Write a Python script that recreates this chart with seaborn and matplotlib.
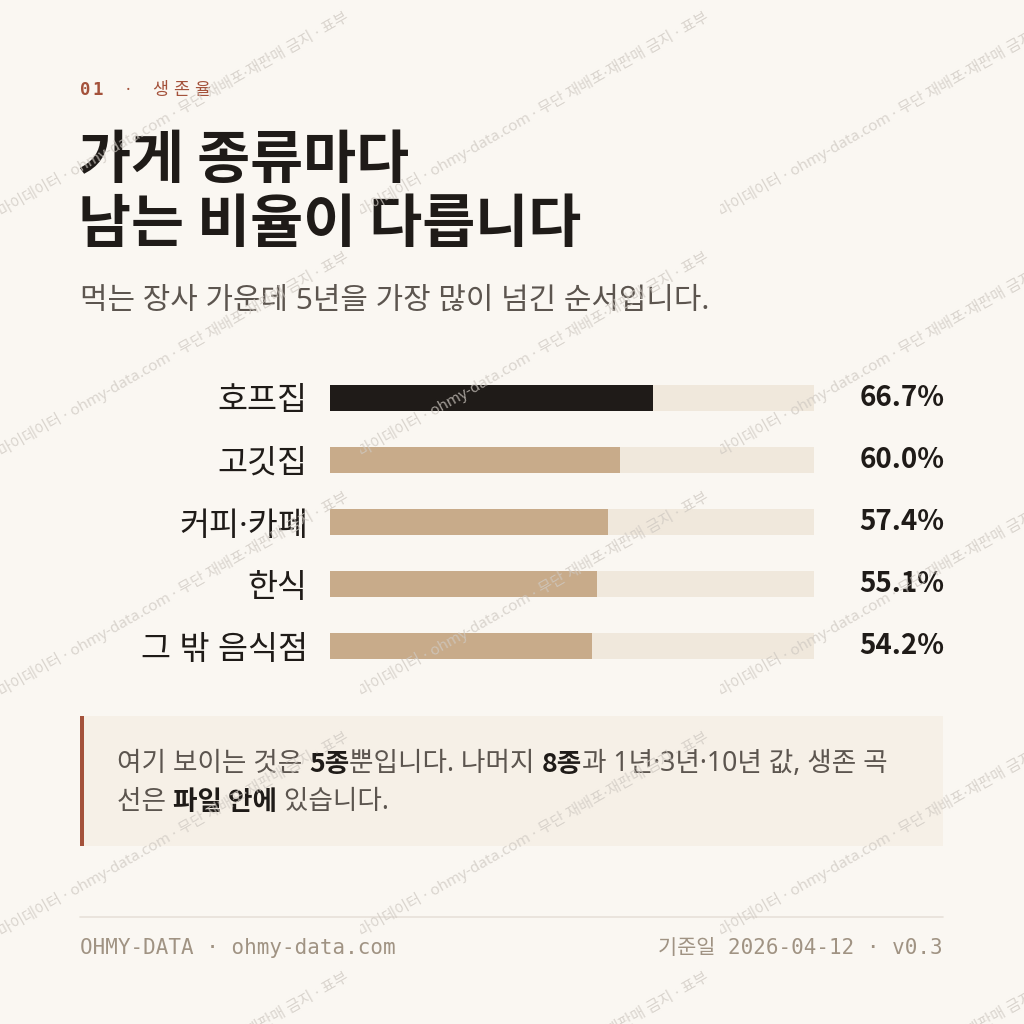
import matplotlib
matplotlib.use("Agg")
import matplotlib.pyplot as plt
import seaborn as sns
import pandas as pd
from matplotlib.patches import Rectangle

# 데이터
categories = ["호프집", "고깃집", "커피·카페", "한식", "그 밖 음식점"]
survival_5y = [66.7, 60.0, 57.4, 55.1, 54.2]
track_max = [100, 100, 100, 100, 100]

tag_chars = ["0", "1", "·", "생", "존", "율"]
title_lines = ["가게 종류마다", "남는 비율이 다릅니다"]
subtitle = "먹는 장사 가운데 5년을 가장 많이 넘긴 순서입니다."
# (글자, 굵게 여부)
note_line1 = [("여기 보이는 것은 ", False), ("5종", True), ("뿐입니다. 나머지 ", False),
              ("8종", True), ("과 1년·3년·10년 값, 생존 곡", False)]
note_line2 = [("선은 ", False), ("파일 안에", True), (" 있습니다.", False)]
footer_left = "OHMY-DATA · ohmy-data.com"
footer_right = "기준일 2026-04-12 · v0.3"
watermark = "마이데이터 · ohmy-data.com · 무단 재배포·재판매 금지 · 표부"

# 색
BG = "#faf7f2"
INK = "#1f1b18"
RUST = "#a4523b"
TAN = "#c8ab8a"
TRACK = "#f0e8dc"
BOX = "#f6f0e7"
GREY = "#5c554f"
MUTED = "#a09383"

KR = ["Noto Sans", "Noto Sans CJK KR", "DejaVu Sans"]
KR_BOLD = ["Noto Sans CJK KR", "DejaVu Sans"]
MONO = ["DejaVu Sans Mono", "Noto Sans CJK KR"]

sns.set_theme(style="white")
plt.rcParams["font.family"] = KR
plt.rcParams["axes.unicode_minus"] = False

W = H = 1024
fig = plt.figure(figsize=(10.24, 10.24), dpi=100, facecolor=BG)


def fx(px):
    return px / W


def fy(py):
    return 1 - py / H


# 상단 태그
tag_x = [80, 92, 126, 152, 173, 194]
for ch, x in zip(tag_chars, tag_x):
    fig.text(fx(x), fy(90), ch, color=RUST, fontsize=12.5, va="center", ha="left",
             family=MONO if ch.isdigit() else KR,
             fontweight="bold" if ch.isdigit() else "normal")

# 제목
fig.text(fx(78), fy(161), title_lines[0], fontsize=41.5, fontweight="bold", color=INK,
         va="center", ha="left", family=KR_BOLD)
fig.text(fx(78), fy(225), title_lines[1], fontsize=41.5, fontweight="bold", color=INK,
         va="center", ha="left", family=KR_BOLD)
fig.text(fx(80), fy(301), subtitle, fontsize=21.5, color=GREY, va="center", ha="left")

# 막대 차트
df = pd.DataFrame({"cat": categories, "val": survival_5y, "track": track_max})
ax = fig.add_axes([fx(330), fy(677), fx(484), 310 / H])
ax.set_facecolor("none")
sns.barplot(data=df, x="track", y="cat", orient="h", color=TRACK, width=0.42,
            saturation=1, ax=ax)
sns.barplot(data=df, x="val", y="cat", orient="h", hue="cat",
            palette=[INK] + [TAN] * (len(categories) - 1), width=0.42,
            saturation=1, legend=False, ax=ax)
for p in ax.patches:
    p.set_edgecolor("none")
ax.set_xlim(0, 100)
ax.set_ylim(len(categories) - 0.5, -0.5)
ax.set_xlabel("")
ax.set_ylabel("")
ax.set_xticks([])
ax.tick_params(axis="y", length=0, pad=16, labelsize=23.5, labelcolor=INK)
sns.despine(ax=ax, left=True, bottom=True)
for i, v in enumerate(survival_5y):
    ax.annotate(f"{v:.1f}%", xy=(100, i), xytext=(32.5, 0), textcoords="offset points",
                va="center", ha="left", fontsize=20, fontweight="bold", color=INK,
                family=KR_BOLD)

# 노트 박스
fig.patches.append(Rectangle((fx(80), fy(846)), fx(863), 130 / H, transform=fig.transFigure,
                             facecolor=BOX, edgecolor="none", zorder=0))
fig.patches.append(Rectangle((fx(80), fy(846)), fx(4), 130 / H, transform=fig.transFigure,
                             facecolor=RUST, edgecolor="none", zorder=1))

fig.canvas.draw()
renderer = fig.canvas.get_renderer()


def draw_runs(runs, x0, y0, size):
    x = x0
    for txt, bold in runs:
        t = fig.text(fx(x), fy(y0), txt, fontsize=size, va="center", ha="left",
                     color=INK if bold else GREY, fontweight="bold" if bold else "normal",
                     family=KR_BOLD if bold else KR)
        bb = t.get_window_extent(renderer=renderer)
        x += bb.width


draw_runs(note_line1, 117, 764, 19.2)
draw_runs(note_line2, 117, 802, 19.2)

# 바닥글
fig.add_artist(plt.Line2D([fx(80), fx(943)], [fy(917), fy(917)], color="#e7e1d9", lw=1.2,
                          transform=fig.transFigure))
fig.text(fx(80), fy(948), footer_left, family=MONO, fontsize=15, color=MUTED,
         va="center", ha="left")
fig.text(fx(943), fy(948), footer_right, family=MONO, fontsize=15, color=MUTED,
         va="center", ha="right")

# 워터마크
for ty in [217, 457, 697, 937, 1177]:
    for tx in [0, 360, 720]:
        t = fig.text(fx(tx + 2), fy(ty), watermark, fontsize=11, color="#cfc9c2",
                     alpha=0.75, rotation=29.5, rotation_mode="anchor",
                     ha="left", va="baseline", zorder=10)
        clip = Rectangle((fx(tx), fy(ty + 20)), fx(358), 250 / H,
                         transform=fig.transFigure, facecolor="none")
        t.set_clip_path(clip)

fig.savefig("out.png", dpi=100, facecolor=BG)
